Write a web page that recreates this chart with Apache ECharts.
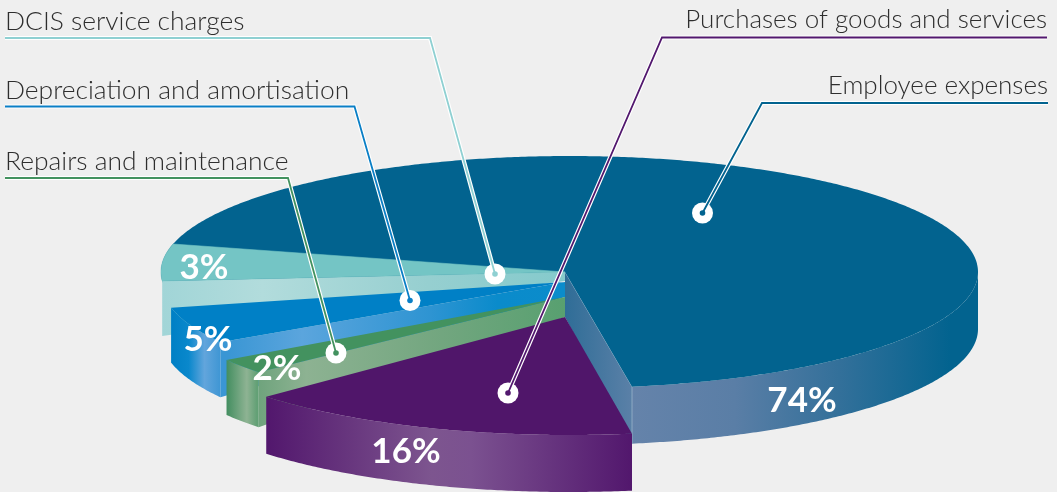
<!DOCTYPE html>
<html>
<head>
<meta charset="utf-8">
<style>
html,body{margin:0;padding:0;background:#efefef}
#chart{width:1057px;height:492px}
</style>
<script src="https://cdn.jsdelivr.net/npm/echarts@6/dist/echarts.min.js"></script>
</head>
<body>
<div id="chart"></div>
<script>
// Expense shares, listed in painting order (back slice first).
const categories = ['Employee expenses', 'DCIS service charges', 'Depreciation and amortisation', 'Repairs and maintenance', 'Purchases of goods and services'];
const shares = [74, 3, 5, 2, 16];
const percentLabels = ['74%', '3%', '5%', '2%', '16%'];

// Projection of the disc.
const CX = 569.5, RX = 408.5, RY = 116, APEX_X = 565;
const FRONT_EDGE = 81.2;   // screen angle where the large slice ends, degrees, clockwise from +x
const SLICE_GAP = 1.6;

const rad = d => d * Math.PI / 180;
const hGrad = (x0, x1, stops) => new echarts.graphic.LinearGradient(x0, 0, x1, 0,
  stops.map(s => ({offset: s[0], color: s[1]})), true);

const looks = [
  {cy: 272, apexY: 272, depth: 57, stretch: 1, cut: 'end', apexDepth: 45, top: '#02638f', line: '#02638f', text: [802, 401], dot: [702.5, 213],
   knee: [762, 103], tail: [1048, 103], caption: [1048, 99, 'right', 26],
   wall: hGrad(631, 978, [[0, '#6583aa'], [0.3, '#5a7ea6'], [0.6, '#33709a'], [0.92, '#02638f'], [1, '#02638f']]),
   cutFill: hGrad(565, 631, [[0, '#2f6d97'], [1, '#5a80a7']]), seam: true},
  {cy: 272, apexY: 272, depth: 55, stretch: 1.7, cut: 'start', apexDepth: 9, top: '#74c5c5', line: '#8fd0d2', text: [204, 268], dot: [495, 274],
   knee: [430, 38], tail: [5, 38], caption: [5, 34, 'left', 26.4], noOuter: true, edged: true,
   cutFill: hGrad(162, 565, [[0, '#a1d5d7'], [0.25, '#b2dcdc'], [0.66, '#96cfd0'], [1, '#85cacc']])},
  {cy: 282, apexY: 282, depth: 55, stretch: 1.03, cut: 'start', apexDepth: 15, top: '#0080c6', line: '#0a7fc6', text: [208, 340], dot: [410, 300.5],
   knee: [354.5, 106.5], tail: [5, 106.5], caption: [5, 103, 'left', 26.4],
   wall: hGrad(172, 228, [[0, '#0080c5'], [0.3, '#0a88cc'], [0.58, '#62a5dc'], [1, '#2e8fd0']]),
   cutFill: hGrad(228, 565, [[0, '#3a96d4'], [0.22, '#5ba5dd'], [0.6, '#2e94d2'], [0.8, '#0a8bcb'], [1, '#0b8ccb']])},
  {cy: 297, apexY: 297, depth: 55, stretch: 1.05, cut: 'start', apexDepth: 20, top: '#43925f', line: '#43925f', text: [277, 369], dot: [336, 353],
   knee: [288, 178], tail: [5, 178], caption: [5, 174, 'left', 26.4],
   wall: hGrad(225, 257, [[0, '#3d8b5c'], [0.68, '#8eb393'], [1, '#62a075']]),
   cutFill: hGrad(257, 565, [[0, '#6ea37c'], [0.16, '#8db292'], [0.6, '#72a67f'], [1, '#58a070']])},
  {cy: 319, apexY: 317, depth: 57, stretch: 0.985, cut: null, top: '#50166a', line: '#52186e', text: [406, 452], dot: [508, 393],
   knee: [662, 37.5], tail: [1047, 37.5], caption: [1047, 33, 'right', 26],
   wall: hGrad(267, 632, [[0, '#52176d'], [0.45, '#7d558f'], [0.56, '#7b5190'], [1, '#52176d']])}
];

// Walk the small slices clockwise from the front edge, and the large slice back from it;
// the slice after the large one starts where the large one stops.
function sweepAngles() {
  const out = [];
  const bigStart = FRONT_EDGE + 360 - shares[0] * 3.6;
  out[0] = [bigStart, FRONT_EDGE + 360];
  let a = FRONT_EDGE;
  for (let i = shares.length - 1; i >= 2; i--) {
    const end = a + shares[i] * 3.6 * looks[i].stretch;
    out[i] = [a, end];
    a = end + SLICE_GAP;
  }
  const dcisStart = bigStart + 0.8;
  out[1] = [dcisStart, dcisStart + shares[1] * 3.6 * looks[1].stretch];
  return out;
}
const angles = sweepAngles();

function rim(a, cy, drop) {
  return [CX + RX * Math.cos(rad(a)), cy + RY * Math.sin(rad(a)) + (drop || 0)];
}
function arc(a0, a1, cy, drop) {
  const pts = [], n = Math.max(2, Math.ceil(Math.abs(a1 - a0) * 2));
  for (let i = 0; i <= n; i++) pts.push(rim(a0 + (a1 - a0) * i / n, cy, drop));
  return pts;
}

function sliceShapes(i) {
  const look = looks[i], [a0, a1] = angles[i], apex = [APEX_X, look.apexY];
  const parts = [];
  if (!look.noOuter && look.wall) {
    const from = Math.max(a0, i === 0 ? 360 : a0);
    parts.push({type: 'polygon', shape: {points: arc(from, a1, look.cy).concat(arc(a1, from, look.cy, look.depth))}, style: {fill: look.wall}});
  }
  if (look.cut) {
    const e = look.cut === 'end' ? a1 : a0;
    const pts = [apex, rim(e, look.cy), rim(e, look.cy, look.depth), [APEX_X, look.apexY + look.apexDepth]];
    parts.push({type: 'polygon', shape: {points: pts}, style: {fill: look.cutFill}});
    if (look.seam) {
      parts.push({type: 'polyline', shape: {points: pts.slice(0, 3)}, style: {stroke: 'rgba(190,210,225,0.5)', lineWidth: 1, fill: null}});
    }
  }
  const topStyle = {fill: look.top};
  if (look.edged) { topStyle.stroke = look.top; topStyle.lineWidth = 0.6; }
  parts.push({type: 'polygon', shape: {points: [apex].concat(arc(a0, a1, look.cy))}, style: topStyle});
  parts.push({type: 'text', style: {text: percentLabels[i], x: look.text[0], y: look.text[1], align: 'center', verticalAlign: 'middle',
    fill: '#fff', font: '700 35px Lato, sans-serif'}});
  return {type: 'group', children: parts};
}

function leaderShapes(i) {
  const look = looks[i], path = [look.tail, look.knee, look.dot];
  return {type: 'group', children: [
    {type: 'polyline', shape: {points: path}, style: {stroke: '#fff', lineWidth: 4.2, fill: null, lineJoin: 'miter'}},
    {type: 'circle', shape: {cx: look.dot[0], cy: look.dot[1], r: 10.5}, style: {fill: '#fff'}},
    {type: 'polyline', shape: {points: path}, style: {stroke: look.line, lineWidth: 1.8, fill: null, lineJoin: 'miter'}},
    {type: 'circle', shape: {cx: look.dot[0], cy: look.dot[1], r: 2.8}, style: {fill: look.line}},
    {type: 'text', style: {text: categories[i], x: look.caption[0], y: look.caption[1], align: look.caption[2], verticalAlign: 'bottom',
      fill: '#2e2e2e', font: '300 ' + look.caption[3] + 'px Lato, sans-serif'}}
  ]};
}

const chart = echarts.init(document.getElementById('chart'), null, {renderer: 'canvas'});
chart.setOption({
  animation: false,
  backgroundColor: '#efefef',
  series: [
    {type: 'custom', coordinateSystem: 'none', silent: true, z: 2,
     data: shares.map((v, i) => [i, v]),
     renderItem: p => sliceShapes(p.dataIndex)},
    {type: 'custom', coordinateSystem: 'none', silent: true, z: 3,
     data: shares.map((v, i) => [i, v]),
     renderItem: p => leaderShapes(p.dataIndex)}
  ]
});
</script>
</body>
</html>
